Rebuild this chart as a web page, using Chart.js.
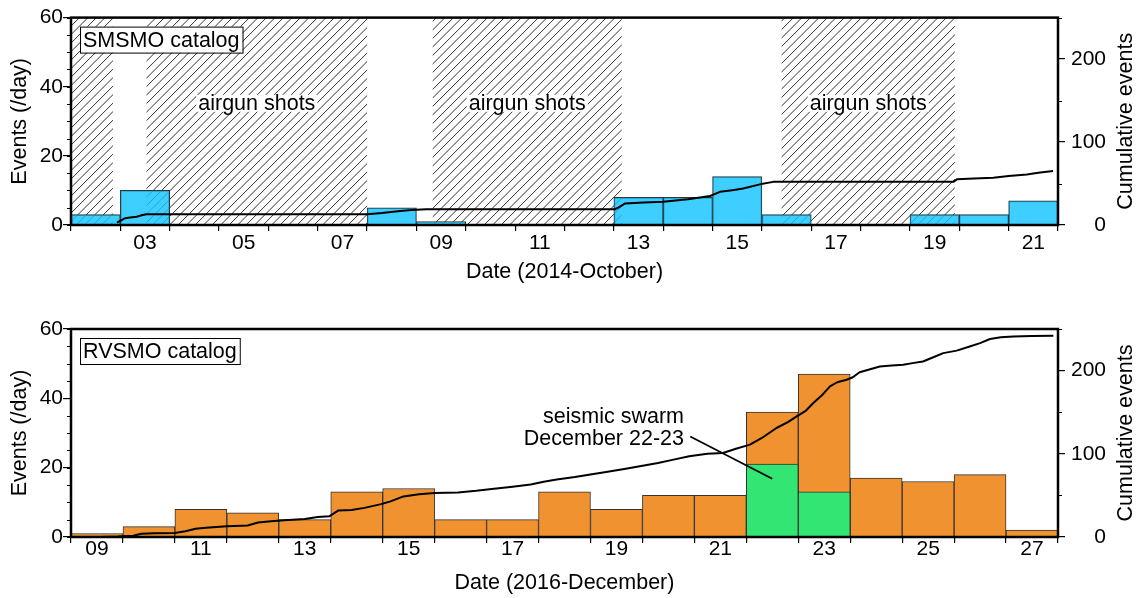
<!DOCTYPE html>
<html>
<head>
<meta charset="utf-8">
<script src="https://cdn.jsdelivr.net/npm/chart.js@4/dist/chart.umd.min.js"></script>
<style>
  html, body { margin: 0; padding: 0; background: #fff; }
  #wrap { position: relative; width: 1141px; height: 598px; }
  #top { position: absolute; left: 0; top: 0; }
  #bottom { position: absolute; left: 0; top: 300px; }
</style>
</head>
<body>
<div id="wrap">
  <canvas id="top" width="1141" height="300"></canvas>
  <canvas id="bottom" width="1141" height="298"></canvas>
</div>
<script>
// ---- SMSMO catalog, October 2014 ----
const smsmoDays = [2, 3, 8, 9, 13, 14, 15, 16, 19, 20, 21];
const smsmoEvents = [3, 10, 5, 1, 8, 8, 14, 3, 3, 3, 7];
const smsmoCumTime = [2.93, 3.09, 3.2, 3.33, 3.45, 3.53, 8.0, 8.3, 8.67, 8.9, 9.2, 13.02, 13.09, 13.23, 13.6, 14.0, 14.5, 14.95, 15.15, 15.4, 15.62, 15.96, 16.23, 19.88, 19.95, 20.3, 20.69, 21.0, 21.37, 21.6, 21.9];
const smsmoCumEvents = [3, 8, 9, 10, 12, 13, 13, 14.5, 17, 18, 19, 19, 21, 26, 27, 28, 31, 35, 40, 42, 44, 49, 52, 52, 55, 56, 57, 59, 61, 63, 65];
const smsmoTickDays = [3, 5, 7, 9, 11, 13, 15, 17, 19, 21];
const smsmoTickLabels = ['03', '05', '07', '09', '11', '13', '15', '17', '19', '21'];

// airgun shot periods (day of month)
const airgunStart = [2.0, 3.53, 9.33, 16.40];
const airgunEnd = [2.85, 8.0, 13.16, 19.91];
const airgunLabelled = [false, true, true, true];

// ---- RVSMO catalog, December 2016 ----
const rvsmoDays = [9, 10, 11, 12, 13, 14, 15, 16, 17, 18, 19, 20, 21, 22, 23, 24, 25, 26, 27];
const rvsmoOther = [1, 3, 8, 7, 5, 13, 14, 5, 5, 13, 8, 12, 12, 15, 34, 17, 16, 18, 2];
const swarmDays = [22, 23];
const swarmEvents = [21, 13];
const rvsmoCumTime = [9.55, 9.9, 10.2, 10.35, 10.6, 11.0, 11.2, 11.4, 11.6, 11.8, 12.0, 12.4, 12.6, 12.85, 13.1, 13.5, 13.75, 13.97, 14.15, 14.4, 14.65, 14.97, 15.15, 15.4, 15.7, 16.0, 16.45, 16.8, 17.1, 17.5, 17.85, 18.1, 18.35, 18.7, 19.0, 19.3, 19.65, 19.95, 20.3, 20.6, 20.9, 21.25, 21.55, 21.8, 22.07, 22.3, 22.58, 22.8, 22.97, 23.15, 23.29, 23.45, 23.61, 23.75, 23.93, 24.05, 24.18, 24.35, 24.57, 24.8, 25.02, 25.2, 25.4, 25.6, 25.79, 26.05, 26.3, 26.5, 26.69, 26.9, 27.14, 27.5, 27.91];
const rvsmoCumEvents = [0, 0.5, 1.5, 4, 4.5, 4.8, 7, 10, 11, 12, 12.8, 13.8, 17.5, 18.8, 20, 21.6, 24, 24.8, 32, 32.5, 35, 39.5, 42.8, 48.8, 51.5, 53, 53.6, 55.5, 57.7, 60.5, 63, 66.5, 69, 72, 75, 78, 81.7, 85, 89, 93, 97, 100, 101, 106, 111, 119, 131, 138, 145, 152, 161, 170, 181, 186, 189, 192, 198, 201, 205, 206, 207, 209, 211, 216, 221, 224, 229, 233, 238, 240, 241, 241.5, 242];
const rvsmoTickDays = [9, 11, 13, 15, 17, 19, 21, 23, 25, 27];
const rvsmoTickLabels = ['09', '11', '13', '15', '17', '19', '21', '23', '25', '27'];

const countTicks = [0, 20, 40, 60];
const cumTicks = [0, 100, 200];

const FONT = "'Liberation Sans', Arial, Helvetica, sans-serif";
Chart.defaults.font.family = FONT;
Chart.defaults.font.size = 21;
Chart.defaults.color = '#000';

const toPoints = (xs, ys, shift) => xs.map((d, i) => ({ x: d + shift, y: ys[i] }));

// hatching for the airgun periods, drawn under the bars
const hatchPlugin = {
  id: 'hatch',
  beforeDatasetsDraw(chart, args, o) {
    if (!o.starts) return;
    const { ctx, chartArea: a } = chart;
    const x = chart.scales.x;
    const h = a.bottom - a.top;
    ctx.save();
    ctx.strokeStyle = '#1a1a1a';
    ctx.lineWidth = 0.9;
    o.starts.forEach((s, i) => {
      const x1 = x.getPixelForValue(s), x2 = x.getPixelForValue(o.ends[i]);
      ctx.save();
      ctx.beginPath();
      ctx.rect(x1, a.top, x2 - x1, h);
      ctx.clip();
      ctx.beginPath();
      for (let k = a.left - h; k < a.right; k += 8.5) {
        if (k + h < x1 || k > x2) continue;
        ctx.moveTo(k, a.bottom);
        ctx.lineTo(k + h, a.top);
      }
      ctx.stroke();
      ctx.restore();
    });
    ctx.restore();
  }
};

// labels, frame, minor ticks, right-hand title
const decorPlugin = {
  id: 'decor',
  afterDatasetsDraw(chart, args, o) {
    const { ctx, chartArea: a } = chart;
    const { x, y, y2 } = chart.scales;
    ctx.save();
    ctx.font = `21.5px ${FONT}`;
    ctx.textBaseline = 'middle';

    // "airgun shots" labels on white
    (o.boxLabels || []).forEach(l => {
      const px = x.getPixelForValue(l.x), py = y.getPixelForValue(l.y);
      const w = ctx.measureText(l.text).width;
      ctx.fillStyle = '#fff';
      ctx.fillRect(px - w / 2 - 2, py - 8.5, w + 4, 17);
      ctx.fillStyle = '#000';
      ctx.textAlign = 'center';
      ctx.fillText(l.text, px, py + 1);
    });

    // catalog name box
    if (o.catalog) {
      const w = ctx.measureText(o.catalog).width + 6;
      ctx.fillStyle = '#fff';
      ctx.fillRect(a.left + 9, a.top + 9, w, 26);
      ctx.strokeStyle = '#000';
      ctx.lineWidth = 1;
      ctx.strokeRect(a.left + 9.5, a.top + 9.5, w, 26);
      ctx.fillStyle = '#000';
      ctx.textAlign = 'left';
      ctx.fillText(o.catalog, a.left + 12, a.top + 23);
    }

    // note with leader line
    if (o.note) {
      const n = o.note;
      ctx.fillStyle = '#000';
      ctx.textAlign = 'right';
      n.lines.forEach((t, i) => ctx.fillText(t, x.getPixelForValue(n.x), y.getPixelForValue(n.y[i]) + 1));
      ctx.strokeStyle = '#000';
      ctx.lineWidth = 1.8;
      ctx.beginPath();
      ctx.moveTo(x.getPixelForValue(n.from[0]), y.getPixelForValue(n.from[1]));
      ctx.lineTo(x.getPixelForValue(n.to[0]), y.getPixelForValue(n.to[1]));
      ctx.stroke();
    }

    // minor ticks
    ctx.strokeStyle = '#000';
    ctx.lineWidth = 1.2;
    ctx.beginPath();
    for (let v = y.min; v <= y.max; v += o.minorY) {
      const py = Math.round(y.getPixelForValue(v)) + 0.5;
      ctx.moveTo(a.left - 4, py); ctx.lineTo(a.left, py);
    }
    for (let v = y2.min + o.minorY2; v <= y2.max; v += o.minorY2 * 2) {
      const py = Math.round(y2.getPixelForValue(v)) + 0.5;
      ctx.moveTo(a.right, py); ctx.lineTo(a.right + 4, py);
    }
    ctx.stroke();

    // frame
    ctx.lineWidth = 2.5;
    ctx.strokeRect(a.left, a.top, a.right - a.left, a.bottom - a.top);

    // right axis title, reading upwards
    ctx.translate(o.rightTitleX, (a.top + a.bottom) / 2);
    ctx.rotate(-Math.PI / 2);
    ctx.textAlign = 'center';
    ctx.fillStyle = '#000';
    ctx.fillText(o.rightTitle, 0, 0);
    ctx.restore();
  }
};

function dayBoundaries(min, max) {
  const t = [];
  for (let d = min; d <= max; d++) t.push({ value: d });
  return t;
}

function buildPanel(id, p) {
  return new Chart(document.getElementById(id), {
    type: 'bar',
    data: { datasets: p.datasets },
    options: {
      responsive: false,
      animation: false,
      devicePixelRatio: 1,
      layout: { padding: { top: p.padTop, right: 35, bottom: 0, left: 0 } },
      plugins: {
        legend: { display: false },
        tooltip: { enabled: false },
        hatch: p.hatch || {},
        decor: p.decor
      },
      scales: {
        x: {
          type: 'linear',
          min: p.xMin,
          max: p.xMax,
          offset: false,
          afterBuildTicks: s => { s.ticks = dayBoundaries(p.xMin, p.xMax); },
          afterFit: s => { s.height = p.xHeight; },
          grid: { offset: false, drawOnChartArea: false, drawTicks: true, tickLength: 6, color: '#000', lineWidth: 1.2 },
          border: { display: false },
          ticks: {
            autoSkip: false,
            maxRotation: 0,
            labelOffset: p.labelOffset,
            padding: p.tickPad,
            callback: v => {
              const i = p.tickDays.indexOf(v);
              return i >= 0 ? p.tickLabels[i] : '';
            }
          },
          title: { display: true, text: p.xTitle, font: { size: 21.5 }, padding: { top: 0, bottom: p.titlePad } }
        },
        y: {
          position: 'left',
          min: 0,
          max: 60,
          stacked: true,
          afterBuildTicks: s => { s.ticks = countTicks.map(v => ({ value: v })); },
          afterFit: s => { s.width = 71; },
          grid: { drawOnChartArea: false, tickLength: 8, color: '#000', lineWidth: 1.2 },
          border: { display: false },
          ticks: { padding: 0 },
          title: { display: true, text: 'Events (/day)', font: { size: 21.5 }, padding: { top: 7, bottom: 0 } }
        },
        y2: {
          position: 'right',
          min: 0,
          max: 250,
          stacked: false,
          afterBuildTicks: s => { s.ticks = cumTicks.map(v => ({ value: v })); },
          afterFit: s => { s.width = 48; },
          grid: { drawOnChartArea: false, tickLength: 7, color: '#000', lineWidth: 1.2 },
          border: { display: false },
          ticks: { padding: 5, crossAlign: 'far' }
        }
      }
    },
    plugins: [hatchPlugin, decorPlugin]
  });
}

const cumLine = (xs, ys) => ({
  type: 'line',
  yAxisID: 'y2',
  data: toPoints(xs, ys, 0),
  borderColor: '#000',
  borderWidth: 2,
  borderJoinStyle: 'round',
  pointRadius: 0,
  tension: 0,
  order: 0
});

const barStyle = {
  yAxisID: 'y',
  stack: 'days',
  borderColor: '#333',
  borderWidth: 1,
  barPercentage: 1,
  categoryPercentage: 1,
  order: 1
};

buildPanel('top', {
  padTop: 17, xHeight: 75, xMin: 2, xMax: 22,
  labelOffset: 24.7, tickPad: 0, titlePad: 15.4,
  tickDays: smsmoTickDays, tickLabels: smsmoTickLabels,
  xTitle: 'Date (2014-October)',
  datasets: [
    Object.assign({ data: toPoints(smsmoDays, smsmoEvents, 0.5), backgroundColor: 'rgba(20,195,255,0.82)' }, barStyle),
    cumLine(smsmoCumTime, smsmoCumEvents)
  ],
  hatch: { starts: airgunStart, ends: airgunEnd },
  decor: {
    catalog: 'SMSMO catalog',
    boxLabels: airgunStart
      .map((s, i) => ({ text: 'airgun shots', x: (s + airgunEnd[i]) / 2, y: 35.2, show: airgunLabelled[i] }))
      .filter(l => l.show),
    minorY: 5, minorY2: 50,
    rightTitle: 'Cumulative events', rightTitleX: 1126.5
  }
});

buildPanel('bottom', {
  padTop: 29, xHeight: 61, xMin: 9, xMax: 28,
  labelOffset: 26, tickPad: -6, titlePad: 1.8,
  tickDays: rvsmoTickDays, tickLabels: rvsmoTickLabels,
  xTitle: 'Date (2016-December)',
  datasets: [
    Object.assign({ data: toPoints(swarmDays, swarmEvents, 0.5), backgroundColor: '#33e673' }, barStyle),
    Object.assign({ data: toPoints(rvsmoDays, rvsmoOther, 0.5), backgroundColor: '#f0922f' }, barStyle),
    cumLine(rvsmoCumTime, rvsmoCumEvents)
  ],
  decor: {
    catalog: 'RVSMO catalog',
    note: {
      lines: ['seismic swarm', 'December 22-23'],
      x: 20.8, y: [34.8, 28.6],
      from: [20.92, 29.0], to: [22.5, 16.8]
    },
    minorY: 5, minorY2: 50,
    rightTitle: 'Cumulative events', rightTitleX: 1126.5
  }
});
</script>
</body>
</html>
